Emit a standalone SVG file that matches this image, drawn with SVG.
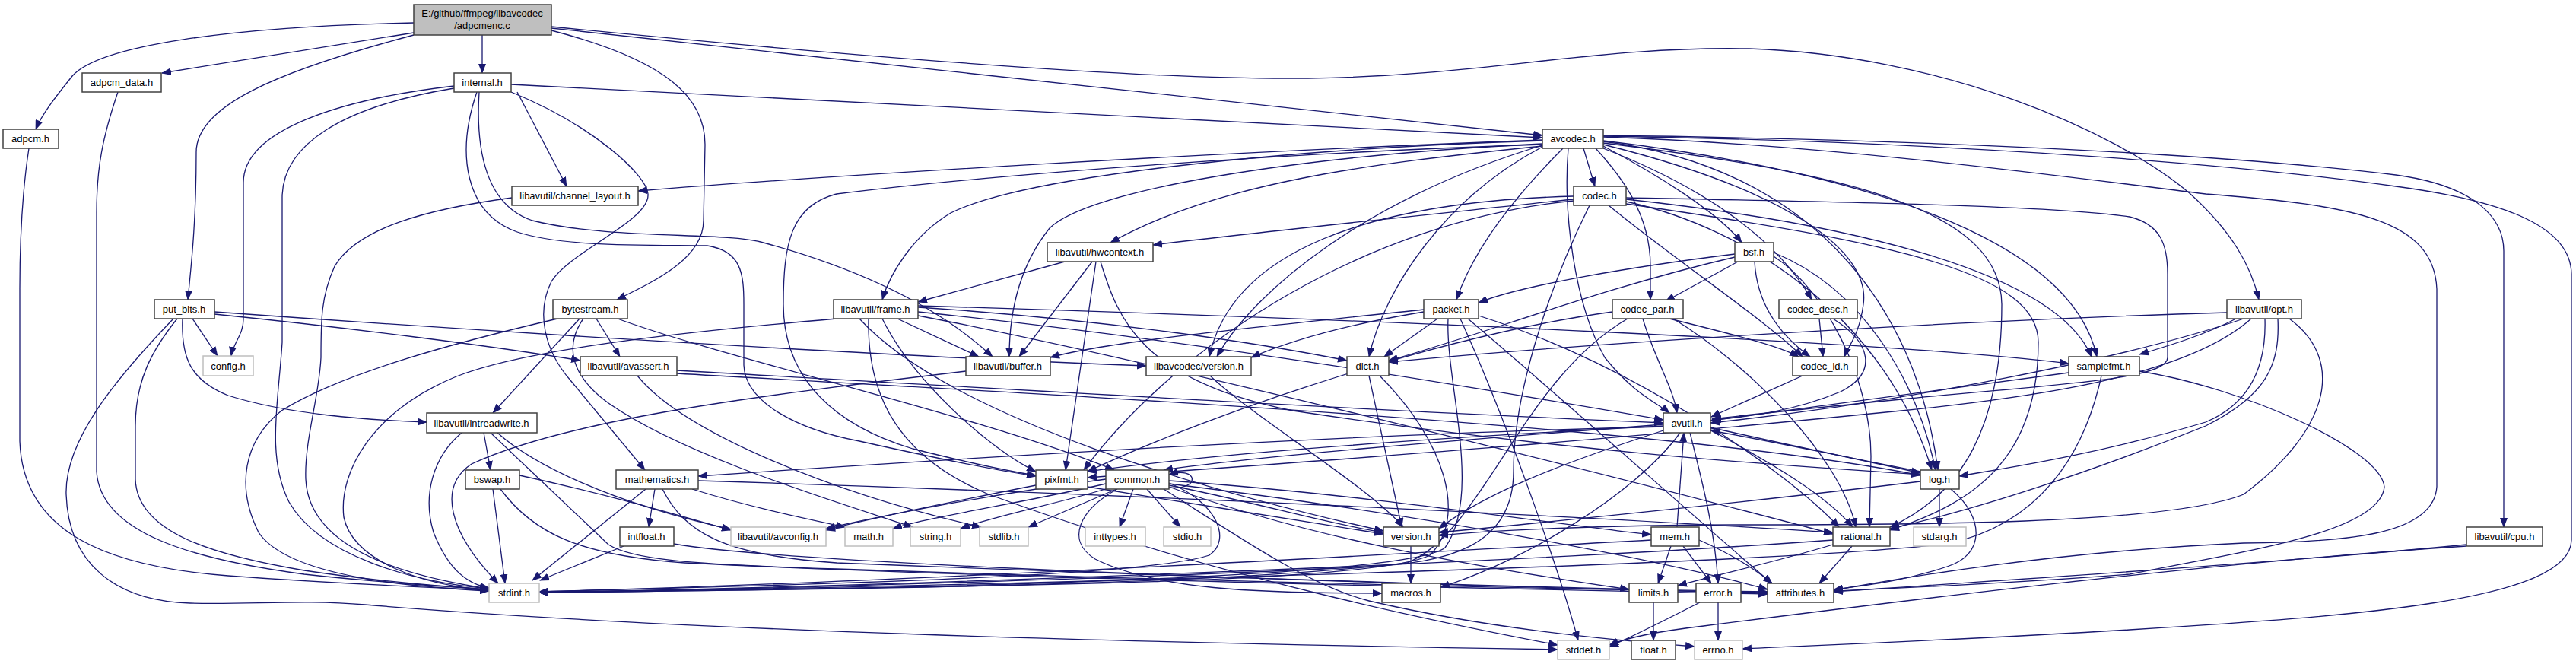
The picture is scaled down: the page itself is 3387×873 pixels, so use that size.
<svg xmlns="http://www.w3.org/2000/svg" width="3387" height="873" viewBox="0 0 3387 873">
<defs>
<marker id="ah" markerWidth="13" markerHeight="10" refX="12" refY="5" orient="auto" markerUnits="userSpaceOnUse"><path d="M0,0 L13,5 L0,10 Z" fill="#191970"/></marker>
<style>
.n rect{fill:#fff;stroke:#404040;stroke-width:1.5}
.g rect{fill:#fff;stroke:#bfbfbf;stroke-width:1.5}
.r rect{fill:#bfbfbf;stroke:#404040;stroke-width:1.5}
text{font-family:"Liberation Sans",Arial,sans-serif;font-size:13px;text-anchor:middle;fill:#000}
#edges path{fill:none;stroke:#191970;stroke-width:1.3;marker-end:url(#ah)}
</style>
</defs>
<rect width="3387" height="873" fill="#fff"/>
<g id="edges">
<path d="M544,30 C300,35 130,60 95,100 C75,125 55,150 47,170"/>
<path d="M544,43 L213,96"/>
<path d="M544,46 C360,95 258,140 258,200 C258,300 250,360 247,394"/>
<path d="M634,46 L634,96"/>
<path d="M725,40 C880,80 927,130 927,190 L925,290 C925,340 860,370 811,394"/>
<path d="M725,37 L2028,178"/>
<path d="M725,35 C1100,72 1500,106 1720,103 C1950,100 2100,60 2300,64 C2550,72 2780,170 2880,255 C2935,305 2960,350 2970,394"/>
<path d="M38,195 C28,260 26,320 26,380 L26,580 C30,700 140,745 300,757 C450,768 560,772 643,776"/>
<path d="M155,121 C135,180 127,220 127,280 L127,620 C132,700 250,735 400,755 C500,766 580,771 643,775"/>
<path d="M672,111 L2028,181"/>
<path d="M680,121 L745,245"/>
<path d="M597,113 C450,130 320,170 320,240 L320,420 C320,440 307,450 304,468"/>
<path d="M597,116 C450,140 371,190 371,260 L371,450 C366,530 350,600 380,660 C420,730 540,765 643,774"/>
<path d="M672,121 C780,165 850,230 852,255 C855,290 750,330 725,370 C705,410 715,460 750,500 L848,618"/>
<path d="M630,121 C625,200 640,270 700,290 C800,315 950,305 1000,318 C1100,345 1220,390 1305,469"/>
<path d="M627,121 C600,200 610,280 680,305 C740,325 850,322 930,323 C975,330 978,360 978,400 L978,480 C980,530 1050,565 1130,580 C1220,600 1300,617 1362,626"/>
<path d="M673,260 C560,275 470,300 440,350 C422,390 422,420 422,470 C420,520 400,580 402,630 C405,700 480,750 643,774"/>
<path d="M253,419 L286,468"/>
<path d="M240,419 C238,470 250,500 300,520 C380,545 480,552 561,555"/>
<path d="M233,419 C200,460 178,500 178,560 L178,630 C180,700 280,730 400,750 C500,765 580,771 643,775"/>
<path d="M228,419 C150,500 85,580 87,650 C90,740 150,790 250,793 C330,795 400,788 480,795 C900,830 1500,845 2048,854"/>
<path d="M282,413 C450,430 650,455 763,474"/>
<path d="M282,410 C700,440 1200,470 1507,481"/>
<path d="M784,419 L815,469"/>
<path d="M762,419 L648,543"/>
<path d="M812,419 C950,470 1300,550 1465,618"/>
<path d="M767,419 C745,450 745,490 800,530 C900,600 1100,660 1200,693"/>
<path d="M733,419 C600,450 450,490 370,540 C320,580 310,640 340,700 C380,760 550,772 643,777"/>
<path d="M838,494 C900,570 1100,650 1290,693"/>
<path d="M890,487 C1300,510 1800,540 2187,556"/>
<path d="M890,491 C1400,520 2200,560 2525,625"/>
<path d="M607,569 C570,600 555,650 570,700 C590,750 615,768 643,773"/>
<path d="M636,569 L645,618"/>
<path d="M645,569 L800,716 C830,735 900,742 1100,748 C1600,765 2100,775 2324,779"/>
<path d="M654,569 C700,610 800,660 961,696"/>
<path d="M648,643 L664,767"/>
<path d="M683,625 C800,650 900,680 961,697"/>
<path d="M658,643 C700,700 760,730 900,740 C1300,760 2000,775 2324,781"/>
<path d="M849,643 L700,763"/>
<path d="M861,643 L853,693"/>
<path d="M871,643 C900,700 950,730 1100,740 C1600,760 2100,775 2324,778"/>
<path d="M918,632 C1500,650 2100,680 2410,700"/>
<path d="M910,643 C980,665 1050,680 1111,693"/>
<path d="M820,718 L710,763"/>
<path d="M886,715 C1000,735 1500,760 2324,780"/>
<path d="M1270,488 C1000,520 750,550 620,610 C575,640 590,700 655,767"/>
<path d="M1591,494 C1650,550 1800,640 1845,693"/>
<path d="M1362,638 C1250,660 1150,680 1086,697"/>
<path d="M1430,640 C1550,660 1750,690 1819,702"/>
<path d="M1454,636 C1350,660 1220,680 1174,695"/>
<path d="M1460,641 C1400,660 1300,680 1263,695"/>
<path d="M1468,643 L1352,693"/>
<path d="M1490,643 L1472,693"/>
<path d="M1508,643 L1552,693"/>
<path d="M1537,641 C1580,645 1575,612 1537,624"/>
<path d="M1469,643 C1420,670 1400,710 1440,735 C1520,775 1650,780 1817,780"/>
<path d="M1537,638 C1650,660 1750,690 1819,700"/>
<path d="M1537,632 C1800,650 2050,690 2171,703"/>
<path d="M1537,636 C1900,680 2200,740 2324,775"/>
<path d="M1530,643 C1620,700 1720,770 1800,790 C1950,825 2100,840 2228,850"/>
<path d="M1537,640 C1700,700 1900,740 2142,775"/>
<path d="M1537,635 C1600,660 1620,710 1590,730 C1500,760 1000,770 709,778"/>
<path d="M1454,630 C1300,650 1150,680 1086,695"/>
<path d="M1800,494 L1843,693"/>
<path d="M1814,494 C1900,580 1930,680 1880,730 C1800,770 1200,772 709,778"/>
<path d="M1855,718 L1855,767"/>
<path d="M2187,558 C1900,580 1650,600 1530,618"/>
<path d="M2222,569 C2240,640 2255,700 2259,767"/>
<path d="M2249,565 C2330,610 2400,650 2436,693"/>
<path d="M2187,566 C2050,610 1950,650 1892,695"/>
<path d="M2209,569 C2150,650 2000,740 1894,772"/>
<path d="M2187,561 C1800,570 1300,600 918,626"/>
<path d="M2249,562 C2350,585 2450,605 2525,622"/>
<path d="M2187,560 C1900,575 1600,595 1430,620"/>
<path d="M2550,643 L2550,693"/>
<path d="M2525,620 C2420,600 2330,580 2249,566"/>
<path d="M2565,643 C2610,680 2610,730 2560,745 C2500,765 2450,770 2411,775"/>
<path d="M2525,633 C2300,660 2000,690 1892,700"/>
<path d="M2410,710 C2000,740 1200,770 709,779"/>
<path d="M2410,716 C2330,740 2260,755 2206,770"/>
<path d="M2435,718 L2392,767"/>
<path d="M2205,693 L2214,569"/>
<path d="M2197,718 L2180,767"/>
<path d="M2213,718 L2250,767"/>
<path d="M2234,710 C2280,730 2310,750 2330,767"/>
<path d="M2171,710 C1800,730 1200,765 709,778"/>
<path d="M2174,792 L2174,842"/>
<path d="M2259,792 L2259,842"/>
<path d="M2235,792 C2180,820 2140,840 2116,850"/>
<path d="M3243,716 C3000,740 2600,765 2411,778"/>
<path d="M3243,718 C2900,740 2500,790 2240,823 C2180,830 2140,838 2116,848"/>
<path d="M2720,490 C2500,520 2350,540 2249,553"/>
<path d="M2813,488 C2950,510 3130,590 3135,640 C3130,700 2950,725 2800,755 C2600,770 2450,775 2411,777"/>
<path d="M2763,494 C2740,600 2680,690 2560,715 C2300,745 1200,772 709,779"/>
<path d="M2370,494 L2250,548"/>
<path d="M2392,419 L2397,469"/>
<path d="M2410,419 C2460,450 2470,490 2420,515 C2360,540 2300,548 2251,552"/>
<path d="M2195,419 C2280,440 2340,455 2365,469"/>
<path d="M2160,419 C2175,470 2200,510 2205,543"/>
<path d="M2200,419 C2300,480 2420,600 2440,693"/>
<path d="M2120,410 C1900,440 1600,540 1430,620"/>
<path d="M2140,419 C2000,500 1950,700 1850,740 C1600,770 1100,775 709,779"/>
<path d="M1872,410 C1750,430 1680,455 1645,470"/>
<path d="M1872,407 C1650,430 1450,450 1381,470"/>
<path d="M1890,419 L1820,469"/>
<path d="M1920,419 C1980,550 2050,750 2075,842"/>
<path d="M1904,419 C1900,500 1950,650 1900,720 C1850,760 1200,775 709,779"/>
<path d="M1930,419 C2050,520 2250,700 2330,767"/>
<path d="M1944,415 C2150,480 2350,620 2418,693"/>
<path d="M2281,334 C2150,350 2000,375 1944,398"/>
<path d="M2285,344 L2190,396"/>
<path d="M2281,338 C2100,380 1950,440 1826,474"/>
<path d="M2307,344 C2310,400 2340,440 2380,469"/>
<path d="M2332,332 C2450,380 2520,500 2545,618"/>
<path d="M2332,337 C2400,380 2460,500 2460,600 L2458,693"/>
<path d="M2069,262 C1900,280 1700,300 1516,322"/>
<path d="M2069,258 C1800,265 1620,330 1590,469"/>
<path d="M2069,264 C1800,290 1550,450 1425,618"/>
<path d="M2090,270 C2050,350 1990,500 1990,620 C1990,720 1900,740 1800,745 C1500,760 1000,775 709,779"/>
<path d="M2138,260 C2400,265 2700,270 2800,285 C2840,295 2850,320 2850,360 L2850,470 C2850,500 2700,505 2500,525 C2400,535 2300,545 2251,551"/>
<path d="M2138,265 C2300,300 2480,420 2540,618"/>
<path d="M2138,268 C2500,320 2680,360 2680,450 C2680,600 2600,660 2485,697"/>
<path d="M2138,262 C2400,290 2700,350 2750,469"/>
<path d="M2115,270 C2200,340 2320,420 2370,469"/>
<path d="M2082,195 L2097,245"/>
<path d="M2098,195 C2130,230 2170,280 2170,350 L2170,394"/>
<path d="M2055,195 C2000,250 1940,320 1915,394"/>
<path d="M2108,192 C2180,230 2260,280 2290,319"/>
<path d="M2108,195 C2250,250 2340,320 2382,394"/>
<path d="M2108,190 C2350,250 2460,330 2450,400 C2445,440 2430,455 2425,469"/>
<path d="M2108,186 C2380,220 2520,400 2548,618"/>
<path d="M2028,193 C1900,260 1820,380 1800,469"/>
<path d="M2028,191 C1800,260 1650,380 1600,469"/>
<path d="M2028,189 C1700,205 1430,250 1380,300 C1340,350 1327,410 1327,469"/>
<path d="M2028,185 C1700,195 1350,230 1250,280 C1200,310 1170,360 1160,394"/>
<path d="M2028,184 C1600,200 1100,230 839,251"/>
<path d="M2028,192 C1800,215 1600,240 1460,319"/>
<path d="M2028,190 C1700,200 1300,230 1100,255 C1040,270 1030,320 1030,400 C1030,500 1100,560 1200,590 C1280,610 1330,620 1362,625"/>
<path d="M2062,195 C2055,280 2070,400 2110,470 C2150,520 2180,530 2195,543"/>
<path d="M2108,188 C2450,230 2630,280 2632,400 C2632,560 2580,650 2485,693"/>
<path d="M2108,185 C2400,220 2720,300 2757,469"/>
<path d="M2108,180 C2400,190 2700,230 2900,255 C3100,270 3200,290 3204,380 L3204,640 C3200,700 3100,713 2950,714 C2700,725 2500,760 2411,776"/>
<path d="M2108,178 C2500,183 2900,200 3150,230 C3260,245 3292,290 3292,330 L3292,693"/>
<path d="M2108,179 C2500,185 2900,210 3150,245 C3300,265 3380,300 3381,360 L3381,710 C3380,790 3100,810 2800,828 C2600,840 2400,848 2291,853"/>
<path d="M1400,344 L1207,397"/>
<path d="M1436,344 L1340,469"/>
<path d="M1441,344 L1401,618"/>
<path d="M1447,344 C1470,420 1500,500 1700,540 C2100,600 2400,615 2525,624"/>
<path d="M1180,419 L1287,469"/>
<path d="M1207,404 C1450,420 1650,450 1771,474"/>
<path d="M1207,410 C1600,450 2000,520 2187,552"/>
<path d="M1207,402 C1800,420 2500,450 2720,478"/>
<path d="M1207,415 C1500,470 2100,620 2410,702"/>
<path d="M1160,419 C1200,500 1300,590 1362,620"/>
<path d="M1130,419 C1250,550 1600,650 1819,698"/>
<path d="M1100,419 C950,432 700,455 600,495 C490,540 445,620 452,680 C465,740 560,770 643,776"/>
<path d="M1142,419 C1140,520 1180,600 1300,650 C1600,760 1900,820 2048,848"/>
<path d="M2928,411 C2600,420 2100,450 1826,476"/>
<path d="M2940,419 C2900,440 2850,455 2813,466"/>
<path d="M2950,419 C2800,470 2500,530 2249,556"/>
<path d="M2978,419 C2980,480 2960,530 2900,555 C2750,600 2620,618 2576,626"/>
<path d="M2960,419 C2880,490 2700,520 2500,540 C2000,590 1600,615 1430,628"/>
<path d="M2995,419 C2998,480 2980,520 2900,560 C2750,620 2600,670 2485,695"/>
<path d="M3010,419 C3080,470 3070,560 2950,650 C2850,690 2500,690 2300,690 C2100,690 1950,698 1892,704"/>
</g>
<g id="n-adpcmenc" class="r"><rect x="544" y="6" width="181" height="40"/><text x="634" y="22">E:/github/ffmpeg/libavcodec</text><text x="634" y="38">/adpcmenc.c</text></g>
<g id="n-adpcm_data" class="n"><rect x="108" y="96" width="104" height="25"/><text x="160" y="113">adpcm_data.h</text></g>
<g id="n-adpcm" class="n"><rect x="4" y="170" width="73" height="25"/><text x="40" y="187">adpcm.h</text></g>
<g id="n-put_bits" class="n"><rect x="203" y="394" width="79" height="25"/><text x="242" y="411">put_bits.h</text></g>
<g id="n-internal" class="n"><rect x="597" y="96" width="75" height="25"/><text x="634" y="113">internal.h</text></g>
<g id="n-channel_layout" class="n"><rect x="673" y="245" width="166" height="25"/><text x="756" y="262">libavutil/channel_layout.h</text></g>
<g id="n-bytestream" class="n"><rect x="727" y="394" width="98" height="25"/><text x="776" y="411">bytestream.h</text></g>
<g id="n-frame" class="n"><rect x="1096" y="394" width="111" height="25"/><text x="1151" y="411">libavutil/frame.h</text></g>
<g id="n-hwcontext" class="n"><rect x="1377" y="319" width="139" height="25"/><text x="1446" y="336">libavutil/hwcontext.h</text></g>
<g id="n-avcodec" class="n"><rect x="2028" y="170" width="80" height="25"/><text x="2068" y="187">avcodec.h</text></g>
<g id="n-codec" class="n"><rect x="2069" y="245" width="69" height="25"/><text x="2103" y="262">codec.h</text></g>
<g id="n-packet" class="n"><rect x="1872" y="394" width="72" height="25"/><text x="1908" y="411">packet.h</text></g>
<g id="n-codec_par" class="n"><rect x="2120" y="394" width="93" height="25"/><text x="2166" y="411">codec_par.h</text></g>
<g id="n-bsf" class="n"><rect x="2281" y="319" width="51" height="25"/><text x="2306" y="336">bsf.h</text></g>
<g id="n-codec_desc" class="n"><rect x="2339" y="394" width="103" height="25"/><text x="2390" y="411">codec_desc.h</text></g>
<g id="n-opt" class="n"><rect x="2928" y="394" width="98" height="25"/><text x="2977" y="411">libavutil/opt.h</text></g>
<g id="n-config" class="g"><rect x="267" y="468" width="66" height="26"/><text x="300" y="486">config.h</text></g>
<g id="n-avassert" class="n"><rect x="763" y="469" width="127" height="25"/><text x="826" y="486">libavutil/avassert.h</text></g>
<g id="n-intreadwrite" class="n"><rect x="561" y="543" width="145" height="26"/><text x="633" y="561">libavutil/intreadwrite.h</text></g>
<g id="n-bswap" class="n"><rect x="612" y="618" width="71" height="25"/><text x="647" y="635">bswap.h</text></g>
<g id="n-mathematics" class="n"><rect x="810" y="618" width="108" height="25"/><text x="864" y="635">mathematics.h</text></g>
<g id="n-intfloat" class="n"><rect x="815" y="693" width="71" height="25"/><text x="850" y="710">intfloat.h</text></g>
<g id="n-avconfig" class="g"><rect x="961" y="693" width="125" height="25"/><text x="1023" y="710">libavutil/avconfig.h</text></g>
<g id="n-math" class="g"><rect x="1111" y="693" width="63" height="25"/><text x="1142" y="710">math.h</text></g>
<g id="n-stdint" class="g"><rect x="643" y="767" width="66" height="25"/><text x="676" y="784">stdint.h</text></g>
<g id="n-buffer" class="n"><rect x="1270" y="469" width="111" height="25"/><text x="1325" y="486">libavutil/buffer.h</text></g>
<g id="n-lavc_version" class="n"><rect x="1507" y="469" width="138" height="25"/><text x="1576" y="486">libavcodec/version.h</text></g>
<g id="n-pixfmt" class="n"><rect x="1362" y="618" width="68" height="25"/><text x="1396" y="635">pixfmt.h</text></g>
<g id="n-common" class="n"><rect x="1454" y="618" width="83" height="25"/><text x="1495" y="635">common.h</text></g>
<g id="n-string" class="g"><rect x="1197" y="693" width="66" height="25"/><text x="1230" y="710">string.h</text></g>
<g id="n-stdlib" class="g"><rect x="1288" y="693" width="64" height="25"/><text x="1320" y="710">stdlib.h</text></g>
<g id="n-inttypes" class="g"><rect x="1427" y="693" width="79" height="25"/><text x="1466" y="710">inttypes.h</text></g>
<g id="n-stdio" class="g"><rect x="1530" y="693" width="62" height="25"/><text x="1561" y="710">stdio.h</text></g>
<g id="n-dict" class="n"><rect x="1771" y="469" width="55" height="25"/><text x="1798" y="486">dict.h</text></g>
<g id="n-avutil" class="n"><rect x="2187" y="543" width="62" height="26"/><text x="2218" y="561">avutil.h</text></g>
<g id="n-version" class="n"><rect x="1819" y="693" width="73" height="25"/><text x="1855" y="710">version.h</text></g>
<g id="n-mem" class="n"><rect x="2171" y="693" width="63" height="25"/><text x="2202" y="710">mem.h</text></g>
<g id="n-macros" class="n"><rect x="1817" y="767" width="77" height="25"/><text x="1855" y="784">macros.h</text></g>
<g id="n-limits" class="n"><rect x="2142" y="767" width="64" height="25"/><text x="2174" y="784">limits.h</text></g>
<g id="n-error" class="n"><rect x="2230" y="767" width="59" height="25"/><text x="2259" y="784">error.h</text></g>
<g id="n-stddef" class="g"><rect x="2048" y="842" width="68" height="25"/><text x="2082" y="859">stddef.h</text></g>
<g id="n-float" class="n"><rect x="2145" y="842" width="58" height="25"/><text x="2174" y="859">float.h</text></g>
<g id="n-errno" class="g"><rect x="2228" y="842" width="63" height="25"/><text x="2259" y="859">errno.h</text></g>
<g id="n-codec_id" class="n"><rect x="2357" y="469" width="85" height="25"/><text x="2399" y="486">codec_id.h</text></g>
<g id="n-samplefmt" class="n"><rect x="2720" y="469" width="93" height="25"/><text x="2766" y="486">samplefmt.h</text></g>
<g id="n-log" class="n"><rect x="2525" y="618" width="51" height="25"/><text x="2550" y="635">log.h</text></g>
<g id="n-rational" class="n"><rect x="2410" y="693" width="75" height="25"/><text x="2447" y="710">rational.h</text></g>
<g id="n-stdarg" class="g"><rect x="2516" y="693" width="69" height="25"/><text x="2550" y="710">stdarg.h</text></g>
<g id="n-attributes" class="n"><rect x="2324" y="767" width="87" height="25"/><text x="2367" y="784">attributes.h</text></g>
<g id="n-cpu" class="n"><rect x="3243" y="693" width="100" height="25"/><text x="3293" y="710">libavutil/cpu.h</text></g>
</svg>
